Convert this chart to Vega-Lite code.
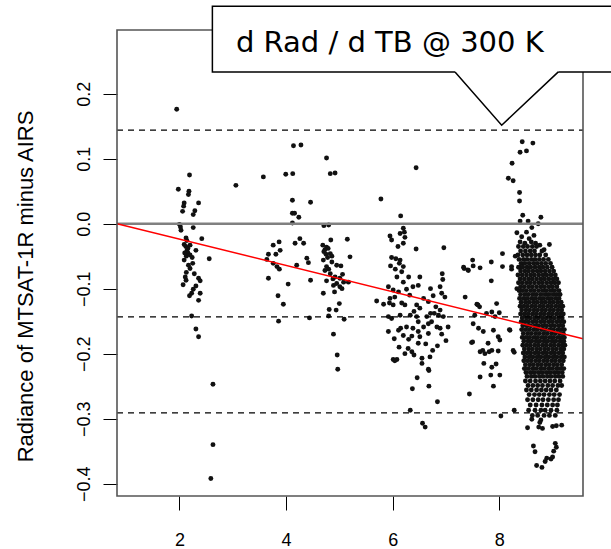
{
"$schema":"https://vega.github.io/schema/vega-lite/v6.json",
"width":466,"height":466,
"autosize":{"type":"none"},
"padding":{"left":117,"top":30,"right":28,"bottom":53},
"background":"white",
"config":{"view":{"stroke":null}},
"datasets":{
"pts":[
{"x":1.95,"y":0.176},{"x":2.19,"y":0.075},{"x":1.98,"y":0.053},{"x":2.18,"y":0.050},{"x":2.17,"y":0.045},{"x":2.09,"y":0.032},{"x":2.36,"y":0.032},{"x":2.08,"y":0.027},{"x":2.06,"y":0.019},{"x":2.29,"y":0.020},{"x":2.26,"y":0.014},{"x":2.0,"y":-0.001},{"x":2.02,"y":-0.005},{"x":2.03,"y":-0.010},{"x":2.26,"y":-0.006},{"x":2.125,"y":-0.022},{"x":2.42,"y":-0.023},{"x":2.14,"y":-0.026},{"x":2.09,"y":-0.032},{"x":2.12,"y":-0.035},{"x":2.16,"y":-0.038},{"x":2.2,"y":-0.033},{"x":2.14,"y":-0.042},{"x":2.31,"y":-0.041},{"x":2.56,"y":-0.054},{"x":2.09,"y":-0.056},{"x":2.13,"y":-0.050},{"x":2.25,"y":-0.061},{"x":2.2,"y":-0.069},{"x":2.17,"y":-0.064},{"x":2.11,"y":-0.082},{"x":2.125,"y":-0.087},{"x":2.36,"y":-0.084},{"x":2.39,"y":-0.088},{"x":2.31,"y":-0.096},{"x":2.23,"y":-0.107},{"x":2.19,"y":-0.111},{"x":2.39,"y":-0.107},{"x":2.36,"y":-0.118},{"x":2.23,"y":-0.142},{"x":2.31,"y":-0.162},{"x":2.36,"y":-0.174},{"x":2.63,"y":-0.247},{"x":2.63,"y":-0.340},{"x":2.59,"y":-0.392},{"x":3.06,"y":0.059},{"x":2.16,"y":-0.045},{"x":2.2,"y":-0.048},{"x":2.1,"y":-0.045},{"x":2.24,"y":-0.052},{"x":2.13,"y":-0.075},{"x":2.28,"y":-0.077},{"x":2.07,"y":-0.094},{"x":2.26,"y":-0.101},
{"x":3.575,"y":0.072},{"x":3.995,"y":0.076},{"x":4.126,"y":0.077},{"x":4.14,"y":0.120},{"x":4.28,"y":0.121},{"x":4.12,"y":0.036},{"x":4.46,"y":0.033},{"x":4.12,"y":0.016},{"x":4.16,"y":0.016},{"x":4.24,"y":0.010},{"x":4.12,"y":0.001},{"x":3.87,"y":-0.028},{"x":3.76,"y":-0.033},{"x":3.89,"y":-0.041},{"x":4.26,"y":-0.023},{"x":4.33,"y":-0.030},{"x":4.17,"y":-0.030},{"x":3.67,"y":-0.047},{"x":3.81,"y":-0.047},{"x":3.64,"y":-0.055},{"x":3.76,"y":-0.061},{"x":3.83,"y":-0.066},{"x":3.875,"y":-0.070},{"x":4.39,"y":-0.053},{"x":4.42,"y":-0.060},{"x":4.2,"y":-0.064},{"x":3.67,"y":-0.084},{"x":4.04,"y":-0.093},{"x":4.46,"y":-0.087},{"x":3.85,"y":-0.111},{"x":3.95,"y":-0.124},{"x":3.86,"y":-0.150},{"x":4.44,"y":-0.145},
{"x":4.76,"y":0.101},{"x":4.83,"y":0.077},{"x":4.92,"y":0.078},{"x":4.71,"y":-0.003},{"x":4.80,"y":-0.002},{"x":4.84,"y":-0.025},{"x":5.15,"y":-0.024},{"x":4.69,"y":-0.033},{"x":4.76,"y":-0.036},{"x":4.79,"y":-0.038},{"x":4.71,"y":-0.043},{"x":4.75,"y":-0.047},{"x":4.83,"y":-0.046},{"x":5.2,"y":-0.051},{"x":4.86,"y":-0.059},{"x":4.76,"y":-0.066},{"x":4.95,"y":-0.064},{"x":4.73,"y":-0.072},{"x":4.83,"y":-0.077},{"x":4.92,"y":-0.082},{"x":5.01,"y":-0.084},{"x":5.08,"y":-0.090},{"x":5.17,"y":-0.090},{"x":4.89,"y":-0.095},{"x":5.01,"y":-0.097},{"x":4.70,"y":-0.107},{"x":5.0,"y":-0.123},{"x":4.81,"y":-0.132},{"x":4.94,"y":-0.133},{"x":4.80,"y":-0.142},{"x":5.09,"y":-0.147},{"x":4.89,"y":-0.170},{"x":4.96,"y":-0.202},{"x":4.97,"y":-0.224},{"x":4.73,"y":-0.040},{"x":4.78,"y":-0.052},{"x":4.70,"y":-0.056},{"x":4.86,"y":-0.050},{"x":4.80,"y":-0.070},{"x":4.88,"y":-0.085},{"x":4.76,"y":-0.088},{"x":4.95,"y":-0.092},{"x":5.05,"y":-0.100},{"x":4.91,"y":-0.105},{"x":5.03,"y":-0.065},{"x":5.06,"y":-0.078},
{"x":5.78,"y":0.038},{"x":6.44,"y":0.086},{"x":6.15,"y":0.012},{"x":6.2,"y":-0.007},{"x":6.22,"y":-0.013},{"x":6.14,"y":-0.015},{"x":5.95,"y":-0.019},{"x":5.98,"y":-0.025},{"x":6.23,"y":-0.021},{"x":6.2,"y":-0.030},{"x":6.44,"y":-0.039},{"x":6.96,"y":-0.037},{"x":5.98,"y":-0.052},{"x":6.06,"y":-0.054},{"x":6.14,"y":-0.056},{"x":5.96,"y":-0.065},{"x":6.125,"y":-0.061},{"x":6.2,"y":-0.066},{"x":6.17,"y":-0.074},{"x":6.08,"y":-0.082},{"x":6.3,"y":-0.082},{"x":6.51,"y":-0.082},{"x":6.93,"y":-0.077},{"x":6.94,"y":-0.086},{"x":6.2,"y":-0.090},{"x":6.48,"y":-0.095},{"x":6.38,"y":-0.097},{"x":5.92,"y":-0.097},{"x":6.01,"y":-0.102},{"x":6.11,"y":-0.105},{"x":6.26,"y":-0.101},{"x":6.71,"y":-0.100},{"x":6.89,"y":-0.097},{"x":6.76,"y":-0.111},{"x":6.92,"y":-0.107},{"x":6.98,"y":-0.113},{"x":5.95,"y":-0.115},{"x":6.04,"y":-0.113},{"x":6.17,"y":-0.122},{"x":6.23,"y":-0.125},{"x":6.45,"y":-0.125},{"x":6.67,"y":-0.120},{"x":5.70,"y":-0.119},{"x":5.83,"y":-0.124},{"x":5.94,"y":-0.122},{"x":6.01,"y":-0.125},{"x":6.51,"y":-0.130},{"x":6.81,"y":-0.128},{"x":6.89,"y":-0.133},{"x":6.78,"y":-0.138},{"x":5.92,"y":-0.143},{"x":5.98,"y":-0.146},{"x":6.14,"y":-0.141},{"x":6.33,"y":-0.141},{"x":6.45,"y":-0.143},{"x":6.64,"y":-0.143},{"x":6.71,"y":-0.138},{"x":6.86,"y":-0.141},{"x":6.95,"y":-0.143},{"x":6.48,"y":-0.151},{"x":6.67,"y":-0.154},{"x":6.73,"y":-0.151},{"x":6.26,"y":-0.159},{"x":6.15,"y":-0.161},{"x":6.11,"y":-0.164},{"x":5.92,"y":-0.166},{"x":6.38,"y":-0.161},{"x":6.48,"y":-0.166},{"x":6.58,"y":-0.159},{"x":6.83,"y":-0.159},{"x":6.89,"y":-0.161},{"x":7.04,"y":-0.159},{"x":6.03,"y":-0.177},{"x":6.2,"y":-0.172},{"x":6.36,"y":-0.173},{"x":6.51,"y":-0.174},{"x":6.67,"y":-0.169},{"x":7.0,"y":-0.180},{"x":6.48,"y":-0.184},{"x":6.84,"y":-0.188},{"x":6.29,"y":-0.192},{"x":6.36,"y":-0.197},{"x":6.23,"y":-0.200},{"x":6.01,"y":-0.209},{"x":6.08,"y":-0.209},{"x":6.04,"y":-0.211},{"x":6.40,"y":-0.202},{"x":6.55,"y":-0.207},{"x":6.70,"y":-0.205},{"x":6.55,"y":-0.215},{"x":6.67,"y":-0.224},{"x":6.46,"y":-0.237},{"x":6.37,"y":-0.254},{"x":6.68,"y":-0.226},{"x":6.68,"y":-0.250},{"x":6.84,"y":-0.274},{"x":6.33,"y":-0.287},{"x":6.56,"y":-0.307},{"x":6.61,"y":-0.313},{"x":6.1,"y":-0.035},{"x":6.05,"y":-0.07},{"x":6.32,"y":-0.11},{"x":6.58,"y":-0.115},{"x":6.4,"y":-0.135},{"x":6.62,"y":-0.185},{"x":6.3,"y":-0.178},{"x":6.75,"y":-0.195},{"x":6.12,"y":-0.19},{"x":6.92,"y":-0.17},
{"x":7.33,"y":-0.067},{"x":7.42,"y":-0.072},{"x":7.50,"y":-0.056},{"x":7.51,"y":-0.065},{"x":7.64,"y":-0.068},{"x":7.85,"y":-0.059},{"x":7.85,"y":-0.088},{"x":8.06,"y":-0.046},{"x":8.06,"y":-0.066},{"x":8.23,"y":-0.070},{"x":7.36,"y":-0.113},{"x":7.58,"y":-0.124},{"x":7.63,"y":-0.128},{"x":7.95,"y":-0.123},{"x":7.54,"y":-0.141},{"x":7.76,"y":-0.138},{"x":7.86,"y":-0.136},{"x":7.92,"y":-0.143},{"x":7.51,"y":-0.154},{"x":7.61,"y":-0.161},{"x":7.70,"y":-0.166},{"x":7.89,"y":-0.164},{"x":7.98,"y":-0.174},{"x":8.01,"y":-0.179},{"x":7.50,"y":-0.182},{"x":7.79,"y":-0.184},{"x":7.86,"y":-0.195},{"x":7.64,"y":-0.197},{"x":7.73,"y":-0.200},{"x":7.98,"y":-0.196},{"x":8.20,"y":-0.164},{"x":8.26,"y":-0.195},{"x":7.71,"y":-0.215},{"x":7.86,"y":-0.221},{"x":8.01,"y":-0.233},{"x":7.64,"y":-0.236},{"x":8.0,"y":-0.137},{"x":7.60,"y":-0.125},{"x":7.48,"y":-0.183},{"x":7.94,"y":-0.216},{"x":7.84,"y":-0.233},{"x":7.89,"y":-0.250},{"x":7.44,"y":-0.262},{"x":8.28,"y":-0.198},{"x":8.28,"y":-0.287},{"x":8.03,"y":-0.296},{"x":8.19,"y":-0.163},{"x":7.81,"y":-0.197},{"x":7.69,"y":-0.195},{"x":7.41,"y":-0.071},{"x":7.34,"y":-0.069},
{"x":8.43,"y":0.126},{"x":8.63,"y":0.124},{"x":8.39,"y":0.110},{"x":8.51,"y":0.112},{"x":8.24,"y":0.093},{"x":8.17,"y":0.070},{"x":8.26,"y":0.066},{"x":8.38,"y":0.048},{"x":8.38,"y":0.035},{"x":8.44,"y":0.013},{"x":8.39,"y":0.004},{"x":8.54,"y":0.004},{"x":8.78,"y":0.010},{"x":8.73,"y":0.000},{"x":8.61,"y":-0.006},{"x":8.33,"y":-0.014},{"x":8.51,"y":-0.013},{"x":8.42,"y":-0.020},{"x":8.56,"y":-0.023},{"x":8.39,"y":-0.028},{"x":8.48,"y":-0.030},{"x":8.76,"y":-0.033},{"x":8.94,"y":-0.032},{"x":8.23,"y":-0.066},{"x":8.38,"y":-0.067},{"x":8.33,"y":-0.100},{"x":8.65,"y":-0.018},{"x":8.6,"y":-0.028},{"x":8.68,"y":-0.03},{"x":8.84,"y":-0.04},{"x":8.3,"y":-0.05},
{"x":8.36,"y":-0.035},{"x":8.45,"y":-0.035},{"x":8.53,"y":-0.035},{"x":8.62,"y":-0.035},{"x":8.70,"y":-0.035},
{"x":8.40,"y":-0.042},{"x":8.49,"y":-0.042},{"x":8.58,"y":-0.042},{"x":8.66,"y":-0.042},{"x":8.80,"y":-0.042},
{"x":8.35,"y":-0.048},{"x":8.44,"y":-0.048},{"x":8.52,"y":-0.048},{"x":8.60,"y":-0.048},{"x":8.68,"y":-0.048},{"x":8.76,"y":-0.048},{"x":8.87,"y":-0.048},
{"x":8.37,"y":-0.055},{"x":8.45,"y":-0.055},{"x":8.52,"y":-0.055},{"x":8.60,"y":-0.055},{"x":8.67,"y":-0.055},{"x":8.75,"y":-0.055},{"x":8.83,"y":-0.055},{"x":8.92,"y":-0.055},
{"x":8.41,"y":-0.061},{"x":8.48,"y":-0.061},{"x":8.56,"y":-0.061},{"x":8.64,"y":-0.061},{"x":8.71,"y":-0.061},{"x":8.79,"y":-0.061},{"x":8.87,"y":-0.061},{"x":8.96,"y":-0.061},
{"x":8.36,"y":-0.067},{"x":8.44,"y":-0.067},{"x":8.52,"y":-0.067},{"x":8.59,"y":-0.067},{"x":8.67,"y":-0.067},{"x":8.75,"y":-0.067},{"x":8.82,"y":-0.067},{"x":8.90,"y":-0.067},{"x":8.99,"y":-0.067},
{"x":8.40,"y":-0.073},{"x":8.48,"y":-0.073},{"x":8.55,"y":-0.073},{"x":8.63,"y":-0.073},{"x":8.71,"y":-0.073},{"x":8.78,"y":-0.073},{"x":8.86,"y":-0.073},{"x":8.94,"y":-0.073},{"x":9.02,"y":-0.073},
{"x":8.35,"y":-0.079},{"x":8.43,"y":-0.079},{"x":8.51,"y":-0.079},{"x":8.59,"y":-0.079},{"x":8.66,"y":-0.079},{"x":8.74,"y":-0.079},{"x":8.82,"y":-0.079},{"x":8.89,"y":-0.079},{"x":8.97,"y":-0.079},{"x":9.05,"y":-0.079},
{"x":8.39,"y":-0.085},{"x":8.47,"y":-0.085},{"x":8.55,"y":-0.085},{"x":8.62,"y":-0.085},{"x":8.70,"y":-0.085},{"x":8.78,"y":-0.085},{"x":8.85,"y":-0.085},{"x":8.93,"y":-0.085},{"x":9.01,"y":-0.085},{"x":9.08,"y":-0.085},
{"x":8.36,"y":-0.091},{"x":8.43,"y":-0.091},{"x":8.51,"y":-0.091},{"x":8.58,"y":-0.091},{"x":8.66,"y":-0.091},{"x":8.74,"y":-0.091},{"x":8.81,"y":-0.091},{"x":8.89,"y":-0.091},{"x":8.97,"y":-0.091},{"x":9.04,"y":-0.091},{"x":9.11,"y":-0.091},
{"x":8.40,"y":-0.097},{"x":8.47,"y":-0.097},{"x":8.55,"y":-0.097},{"x":8.62,"y":-0.097},{"x":8.70,"y":-0.097},{"x":8.78,"y":-0.097},{"x":8.85,"y":-0.097},{"x":8.93,"y":-0.097},{"x":9.00,"y":-0.097},{"x":9.08,"y":-0.097},
{"x":8.37,"y":-0.103},{"x":8.44,"y":-0.103},{"x":8.51,"y":-0.103},{"x":8.59,"y":-0.103},{"x":8.66,"y":-0.103},{"x":8.74,"y":-0.103},{"x":8.82,"y":-0.103},{"x":8.89,"y":-0.103},{"x":8.97,"y":-0.103},{"x":9.04,"y":-0.103},{"x":9.12,"y":-0.103},
{"x":8.40,"y":-0.109},{"x":8.48,"y":-0.109},{"x":8.55,"y":-0.109},{"x":8.63,"y":-0.109},{"x":8.70,"y":-0.109},{"x":8.78,"y":-0.109},{"x":8.86,"y":-0.109},{"x":8.93,"y":-0.109},{"x":9.01,"y":-0.109},{"x":9.08,"y":-0.109},{"x":9.14,"y":-0.109},
{"x":8.38,"y":-0.115},{"x":8.45,"y":-0.115},{"x":8.52,"y":-0.115},{"x":8.60,"y":-0.115},{"x":8.67,"y":-0.115},{"x":8.75,"y":-0.115},{"x":8.82,"y":-0.115},{"x":8.90,"y":-0.115},{"x":8.97,"y":-0.115},{"x":9.05,"y":-0.115},{"x":9.12,"y":-0.115},
{"x":8.41,"y":-0.121},{"x":8.49,"y":-0.121},{"x":8.56,"y":-0.121},{"x":8.64,"y":-0.121},{"x":8.71,"y":-0.121},{"x":8.79,"y":-0.121},{"x":8.86,"y":-0.121},{"x":8.94,"y":-0.121},{"x":9.01,"y":-0.121},{"x":9.09,"y":-0.121},{"x":9.16,"y":-0.121},
{"x":8.39,"y":-0.127},{"x":8.46,"y":-0.127},{"x":8.53,"y":-0.127},{"x":8.61,"y":-0.127},{"x":8.68,"y":-0.127},{"x":8.76,"y":-0.127},{"x":8.83,"y":-0.127},{"x":8.91,"y":-0.127},{"x":8.98,"y":-0.127},{"x":9.06,"y":-0.127},{"x":9.13,"y":-0.127},{"x":9.19,"y":-0.127},
{"x":8.42,"y":-0.133},{"x":8.50,"y":-0.133},{"x":8.57,"y":-0.133},{"x":8.65,"y":-0.133},{"x":8.72,"y":-0.133},{"x":8.80,"y":-0.133},{"x":8.87,"y":-0.133},{"x":8.95,"y":-0.133},{"x":9.02,"y":-0.133},{"x":9.10,"y":-0.133},{"x":9.17,"y":-0.133},
{"x":8.40,"y":-0.139},{"x":8.47,"y":-0.139},{"x":8.54,"y":-0.139},{"x":8.62,"y":-0.139},{"x":8.69,"y":-0.139},{"x":8.77,"y":-0.139},{"x":8.84,"y":-0.139},{"x":8.92,"y":-0.139},{"x":8.99,"y":-0.139},{"x":9.07,"y":-0.139},{"x":9.14,"y":-0.139},{"x":9.20,"y":-0.139},
{"x":8.43,"y":-0.145},{"x":8.51,"y":-0.145},{"x":8.58,"y":-0.145},{"x":8.66,"y":-0.145},{"x":8.73,"y":-0.145},{"x":8.81,"y":-0.145},{"x":8.88,"y":-0.145},{"x":8.96,"y":-0.145},{"x":9.03,"y":-0.145},{"x":9.11,"y":-0.145},{"x":9.18,"y":-0.145},
{"x":8.41,"y":-0.151},{"x":8.48,"y":-0.151},{"x":8.55,"y":-0.151},{"x":8.63,"y":-0.151},{"x":8.70,"y":-0.151},{"x":8.78,"y":-0.151},{"x":8.85,"y":-0.151},{"x":8.93,"y":-0.151},{"x":9.00,"y":-0.151},{"x":9.08,"y":-0.151},{"x":9.15,"y":-0.151},{"x":9.21,"y":-0.151},
{"x":8.44,"y":-0.157},{"x":8.52,"y":-0.157},{"x":8.59,"y":-0.157},{"x":8.67,"y":-0.157},{"x":8.74,"y":-0.157},{"x":8.82,"y":-0.157},{"x":8.89,"y":-0.157},{"x":8.97,"y":-0.157},{"x":9.04,"y":-0.157},{"x":9.12,"y":-0.157},{"x":9.19,"y":-0.157},
{"x":8.42,"y":-0.163},{"x":8.49,"y":-0.163},{"x":8.56,"y":-0.163},{"x":8.64,"y":-0.163},{"x":8.71,"y":-0.163},{"x":8.79,"y":-0.163},{"x":8.86,"y":-0.163},{"x":8.94,"y":-0.163},{"x":9.01,"y":-0.163},{"x":9.09,"y":-0.163},{"x":9.16,"y":-0.163},{"x":9.22,"y":-0.163},
{"x":8.45,"y":-0.169},{"x":8.53,"y":-0.169},{"x":8.60,"y":-0.169},{"x":8.68,"y":-0.169},{"x":8.75,"y":-0.169},{"x":8.83,"y":-0.169},{"x":8.90,"y":-0.169},{"x":8.98,"y":-0.169},{"x":9.05,"y":-0.169},{"x":9.13,"y":-0.169},{"x":9.20,"y":-0.169},
{"x":8.43,"y":-0.175},{"x":8.50,"y":-0.175},{"x":8.57,"y":-0.175},{"x":8.65,"y":-0.175},{"x":8.72,"y":-0.175},{"x":8.80,"y":-0.175},{"x":8.87,"y":-0.175},{"x":8.95,"y":-0.175},{"x":9.02,"y":-0.175},{"x":9.10,"y":-0.175},{"x":9.17,"y":-0.175},{"x":9.22,"y":-0.175},
{"x":8.46,"y":-0.181},{"x":8.54,"y":-0.181},{"x":8.61,"y":-0.181},{"x":8.69,"y":-0.181},{"x":8.76,"y":-0.181},{"x":8.84,"y":-0.181},{"x":8.91,"y":-0.181},{"x":8.99,"y":-0.181},{"x":9.06,"y":-0.181},{"x":9.14,"y":-0.181},{"x":9.21,"y":-0.181},
{"x":8.44,"y":-0.187},{"x":8.51,"y":-0.187},{"x":8.58,"y":-0.187},{"x":8.66,"y":-0.187},{"x":8.73,"y":-0.187},{"x":8.81,"y":-0.187},{"x":8.88,"y":-0.187},{"x":8.96,"y":-0.187},{"x":9.03,"y":-0.187},{"x":9.11,"y":-0.187},{"x":9.18,"y":-0.187},{"x":9.23,"y":-0.187},
{"x":8.47,"y":-0.193},{"x":8.55,"y":-0.193},{"x":8.62,"y":-0.193},{"x":8.70,"y":-0.193},{"x":8.77,"y":-0.193},{"x":8.85,"y":-0.193},{"x":8.92,"y":-0.193},{"x":9.00,"y":-0.193},{"x":9.07,"y":-0.193},{"x":9.15,"y":-0.193},{"x":9.21,"y":-0.193},
{"x":8.45,"y":-0.199},{"x":8.52,"y":-0.199},{"x":8.59,"y":-0.199},{"x":8.67,"y":-0.199},{"x":8.74,"y":-0.199},{"x":8.82,"y":-0.199},{"x":8.89,"y":-0.199},{"x":8.97,"y":-0.199},{"x":9.04,"y":-0.199},{"x":9.12,"y":-0.199},{"x":9.19,"y":-0.199},
{"x":8.48,"y":-0.205},{"x":8.56,"y":-0.205},{"x":8.63,"y":-0.205},{"x":8.71,"y":-0.205},{"x":8.78,"y":-0.205},{"x":8.86,"y":-0.205},{"x":8.93,"y":-0.205},{"x":9.01,"y":-0.205},{"x":9.08,"y":-0.205},{"x":9.16,"y":-0.205},{"x":9.22,"y":-0.205},
{"x":8.46,"y":-0.211},{"x":8.53,"y":-0.211},{"x":8.60,"y":-0.211},{"x":8.68,"y":-0.211},{"x":8.75,"y":-0.211},{"x":8.83,"y":-0.211},{"x":8.90,"y":-0.211},{"x":8.98,"y":-0.211},{"x":9.05,"y":-0.211},{"x":9.13,"y":-0.211},{"x":9.20,"y":-0.211},
{"x":8.49,"y":-0.217},{"x":8.57,"y":-0.217},{"x":8.64,"y":-0.217},{"x":8.72,"y":-0.217},{"x":8.79,"y":-0.217},{"x":8.87,"y":-0.217},{"x":8.94,"y":-0.217},{"x":9.02,"y":-0.217},{"x":9.09,"y":-0.217},{"x":9.17,"y":-0.217},
{"x":8.47,"y":-0.223},{"x":8.54,"y":-0.223},{"x":8.62,"y":-0.223},{"x":8.69,"y":-0.223},{"x":8.77,"y":-0.223},{"x":8.84,"y":-0.223},{"x":8.92,"y":-0.223},{"x":8.99,"y":-0.223},{"x":9.07,"y":-0.223},{"x":9.14,"y":-0.223},{"x":9.21,"y":-0.223},
{"x":8.50,"y":-0.229},{"x":8.58,"y":-0.229},{"x":8.65,"y":-0.229},{"x":8.73,"y":-0.229},{"x":8.80,"y":-0.229},{"x":8.88,"y":-0.229},{"x":8.95,"y":-0.229},{"x":9.03,"y":-0.229},{"x":9.10,"y":-0.229},{"x":9.18,"y":-0.229},
{"x":8.52,"y":-0.235},{"x":8.60,"y":-0.235},{"x":8.67,"y":-0.235},{"x":8.75,"y":-0.235},{"x":8.82,"y":-0.235},{"x":8.90,"y":-0.235},{"x":8.97,"y":-0.235},{"x":9.05,"y":-0.235},{"x":9.12,"y":-0.235},{"x":9.19,"y":-0.235},
{"x":8.49,"y":-0.242},{"x":8.58,"y":-0.242},{"x":8.68,"y":-0.242},{"x":8.77,"y":-0.242},{"x":8.86,"y":-0.242},{"x":8.95,"y":-0.242},{"x":9.04,"y":-0.242},{"x":9.14,"y":-0.242},
{"x":8.54,"y":-0.249},{"x":8.63,"y":-0.249},{"x":8.72,"y":-0.249},{"x":8.81,"y":-0.249},{"x":8.91,"y":-0.249},{"x":9.00,"y":-0.249},{"x":9.10,"y":-0.249},{"x":9.17,"y":-0.249},
{"x":8.51,"y":-0.256},{"x":8.60,"y":-0.256},{"x":8.70,"y":-0.256},{"x":8.79,"y":-0.256},{"x":8.88,"y":-0.256},{"x":8.97,"y":-0.256},{"x":9.07,"y":-0.256},
{"x":8.56,"y":-0.263},{"x":8.66,"y":-0.263},{"x":8.75,"y":-0.263},{"x":8.84,"y":-0.263},{"x":8.94,"y":-0.263},{"x":9.03,"y":-0.263},{"x":9.13,"y":-0.263},
{"x":8.53,"y":-0.271},{"x":8.63,"y":-0.271},{"x":8.73,"y":-0.271},{"x":8.82,"y":-0.271},{"x":8.92,"y":-0.271},{"x":9.02,"y":-0.271},{"x":9.11,"y":-0.271},
{"x":8.58,"y":-0.279},{"x":8.69,"y":-0.279},{"x":8.80,"y":-0.279},{"x":8.90,"y":-0.279},{"x":9.00,"y":-0.279},{"x":9.09,"y":-0.279},
{"x":8.55,"y":-0.287},{"x":8.67,"y":-0.287},{"x":8.78,"y":-0.287},{"x":8.86,"y":-0.287},{"x":8.97,"y":-0.287},{"x":9.08,"y":-0.287},
{"x":8.62,"y":-0.295},{"x":8.72,"y":-0.295},{"x":8.84,"y":-0.295},{"x":8.94,"y":-0.295},{"x":9.05,"y":-0.295},
{"x":8.53,"y":-0.314},{"x":8.61,"y":-0.301},{"x":8.74,"y":-0.313},{"x":8.78,"y":-0.302},{"x":8.81,"y":-0.315},{"x":8.76,"y":-0.306},{"x":9.0,"y":-0.312},{"x":9.07,"y":-0.311},{"x":9.17,"y":-0.310},{"x":8.64,"y":-0.342},{"x":8.67,"y":-0.351},{"x":9.05,"y":-0.338},{"x":9.07,"y":-0.344},{"x":9.02,"y":-0.350},{"x":8.97,"y":-0.362},{"x":9.0,"y":-0.359},{"x":8.70,"y":-0.372},{"x":8.80,"y":-0.375},{"x":8.89,"y":-0.361},{"x":8.86,"y":-0.366}
],
"zero":[{"x":0.83,"x2":9.57,"y":0.0}],
"cut":[{"x":0.83,"x2":9.57,"y":0.1438},{"x":0.83,"x2":9.57,"y":-0.1434},{"x":0.83,"x2":9.57,"y":-0.291}],
"fit":[{"x":0.83,"y":0.0},{"x":9.57,"y":-0.177}],
"frame":[{"x":0.83,"x2":9.57,"y":-0.419,"y2":0.298}],
"box":[{"x":2.619,"x2":10.8,"y":0.2335,"y2":0.3346}],
"tri":[{"x":7.17,"y":0.2335,"y2":0.2375},{"x":8.045,"y":0.1515,"y2":0.2375},{"x":9.107,"y":0.2335,"y2":0.2375}],
"label":[{"t":"d Rad / d TB @ 300 K","x":5.947,"y":0.2643}]
},
"encoding":{
 "x":{"field":"x","type":"quantitative","scale":{"domain":[0.83,9.57],"nice":false,"zero":false},
  "axis":{"values":[2,4,6,8],"title":null,"domain":false,"grid":false,"tickSize":14,"tickColor":"black","tickWidth":1,"labelFont":"Liberation Sans","labelFontSize":18,"labelColor":"black","labelPadding":35,"labelBaseline":"alphabetic","labelFlush":false,"labelOverlap":false}},
 "y":{"field":"y","type":"quantitative","scale":{"domain":[-0.419,0.298],"nice":false,"zero":false},
  "axis":{"values":[-0.4,-0.3,-0.2,-0.1,0,0.1,0.2],"format":".1f","title":"Radiance of MTSAT-1R minus AIRS","domain":false,"grid":false,"tickSize":14,"tickColor":"black","tickWidth":1,"labelFont":"Liberation Sans","labelFontSize":18,"labelColor":"black","labelAngle":270,"labelAlign":"center","labelBaseline":"alphabetic","labelPadding":14,"labelFlush":false,"labelOverlap":false,"titleFont":"Liberation Sans","titleFontSize":22,"titleFontWeight":"normal","titleColor":"black","titleAngle":270,"titleX":-85,"titleY":256,"titleAlign":"center","titleBaseline":"alphabetic"}}
},
"layer":[
{"data":{"name":"pts"},"mark":{"type":"circle","size":24,"color":"#111111","opacity":1}},
{"data":{"name":"zero"},"mark":{"type":"rule","color":"#808080","strokeWidth":2.5},"encoding":{"x2":{"field":"x2"}}},
{"data":{"name":"cut"},"mark":{"type":"rule","color":"black","strokeWidth":1.3,"strokeDash":[6,5]},"encoding":{"x2":{"field":"x2"}}},
{"data":{"name":"fit"},"mark":{"type":"line","color":"#ff0000","strokeWidth":1.5}},
{"data":{"name":"frame"},"mark":{"type":"rect","filled":false,"stroke":"#555555","strokeWidth":1.6},"encoding":{"x2":{"field":"x2"},"y2":{"field":"y2"}}},
{"data":{"name":"box"},"mark":{"type":"rect","fill":"white","stroke":"black","strokeWidth":1.5},"encoding":{"x2":{"field":"x2"},"y2":{"field":"y2"}}},
{"data":{"name":"tri"},"mark":{"type":"area","fill":"white","opacity":1},"encoding":{"y2":{"field":"y2"}}},
{"data":{"name":"tri"},"mark":{"type":"line","color":"black","strokeWidth":1.5}},
{"data":{"name":"label"},"mark":{"type":"text","font":"DejaVu Sans","fontSize":29,"align":"center","baseline":"alphabetic","color":"black"},"encoding":{"text":{"field":"t"}}}
]
}
